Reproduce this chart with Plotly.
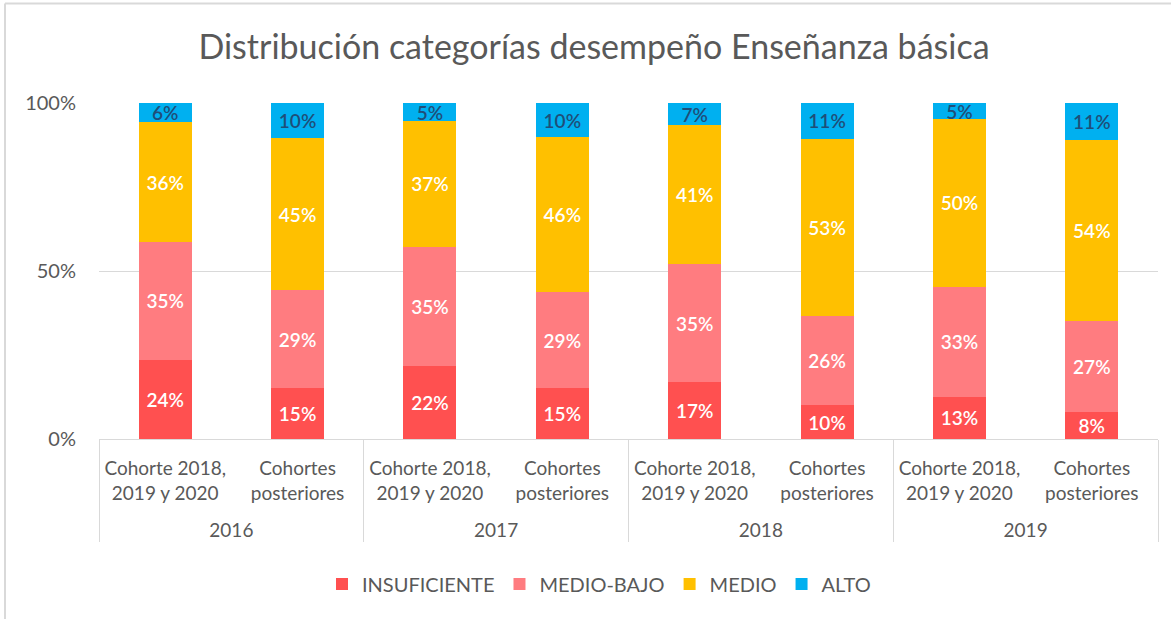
import plotly.graph_objects as go

years = ["2016", "2016", "2017", "2017", "2018", "2018", "2019", "2019"]
cohorts = ["Cohorte 2018,<br>2019 y 2020<br> ", "Cohortes<br>posteriores<br> "] * 4

series_names = ["INSUFICIENTE", "MEDIO-BAJO", "MEDIO", "ALTO"]
insuficiente = [23.6, 15.3, 21.8, 15.1, 17.0, 10.1, 12.6, 8.1]
medio_bajo = [35.0, 28.9, 35.4, 28.7, 35.0, 26.4, 32.7, 27.1]
medio = [35.7, 45.4, 37.4, 46.0, 41.4, 52.8, 49.9, 53.9]
alto = [5.7, 10.4, 5.4, 10.2, 6.6, 10.7, 4.8, 10.9]

colors = ["#FF5050", "#FF7C80", "#FFC000", "#00B0F0"]
label_colors = ["#FFFFFF", "#FFFFFF", "#FFFFFF", "#1F4E79"]

FONT = "Lato"
W, H = 1171, 619
L, R, T, B = 99, 13, 103, 180
pw, ph = W - L - R, H - T - B

fig = go.Figure()
for name, vals, col, lcol in zip(series_names, [insuficiente, medio_bajo, medio, alto], colors, label_colors):
    fig.add_trace(go.Bar(
        x=[years, cohorts], y=vals, name=name,
        marker=dict(color=col, line=dict(width=0)),
        texttemplate="%{y:.0f}%", textposition="inside", insidetextanchor="middle",
        textangle=0, constraintext="none",
        textfont=dict(family=FONT, size=19, color=lcol, weight=600),
    ))

def px_x(p):
    return (p - L) / pw

def px_y(p):
    return (H - B - p) / ph

fig.update_layout(
    width=W, height=H,
    barmode="stack", bargap=0.6,
    plot_bgcolor="white", paper_bgcolor="white",
    margin=dict(l=L, r=R, t=T, b=B),
    font=dict(family=FONT, color="#595959"),
    title=dict(text="Distribución categorías desempeño Enseñanza básica",
               x=594 / W, xanchor="center", y=1 - 47 / H, yanchor="middle",
               font=dict(family=FONT, size=34, color="#595959")),
    legend=dict(orientation="h", x=px_x(599), xanchor="center", y=px_y(584), yanchor="middle",
                font=dict(family=FONT, size=20, color="#595959"), traceorder="normal"),
    yaxis=dict(range=[0, 100], tickvals=[0, 50, 100], ticktext=["0%", "50%", "100%"],
               showgrid=True, gridcolor="#D9D9D9", gridwidth=1, zeroline=False,
               showline=False, tickfont=dict(family=FONT, size=20, color="#595959"),
               ticks="", ticklabelstandoff=22),
    xaxis=dict(type="multicategory", showline=True, linecolor="#D9D9D9", linewidth=1,
               showdividers=True, dividercolor="#D9D9D9", dividerwidth=1,
               tickfont=dict(family=FONT, size=19, color="#595959"), ticks="",
               ticklabelstandoff=12),
    shapes=[
        dict(type="line", xref="paper", yref="paper", x0=px_x(5), x1=px_x(W), y0=px_y(3.5), y1=px_y(3.5),
             line=dict(color="#D9D9D9", width=2)),
        dict(type="line", xref="paper", yref="paper", x0=px_x(5), x1=px_x(5), y0=px_y(3.5), y1=px_y(H),
             line=dict(color="#D9D9D9", width=2)),
    ],
)

fig.write_html("out.html", config={"displayModeBar": False},
               post_script="document.body.style.margin='0';")
